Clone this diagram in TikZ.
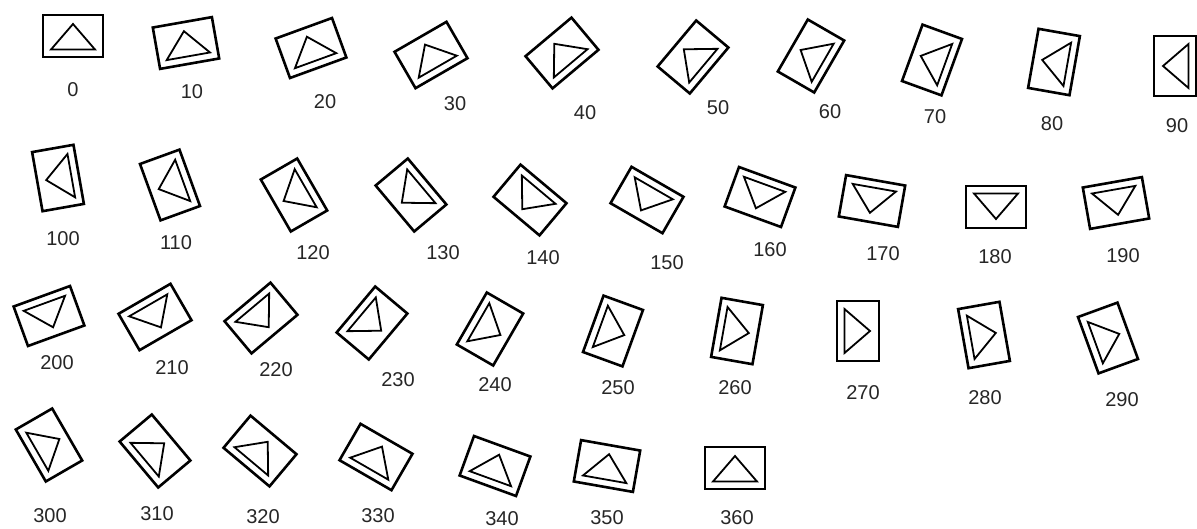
\documentclass[tikz,border=0pt]{standalone}
\usepackage{fontspec}
\setmainfont{Liberation Sans}

\begin{document}
\begin{tikzpicture}[
  x=1pt, y=-1pt,
  every node/.style={font=\fontsize{20}{20}\selectfont},
  iconbox/.style={draw, line width=2.6pt, minimum width=60pt,
                  minimum height=42pt, inner sep=0pt, transform shape},
  tri/.style={line width=1.8pt, line join=miter},
  lab/.style={text=black!85, inner sep=0pt}
]
\useasboundingbox (0,0) rectangle (1197,528);

%% ---- Row 1: 0 ... 90 -------------------------------------------------
\foreach \a/\x/\y/\lx/\ly in {0/73/36/73/90, 10/186/43/192/92,
    20/311/48/325/102, 30/431/55/455/104, 40/562/53/585/113,
    50/693/57/718/108, 60/811/56/830/112, 70/932/60/935/117,
    80/1054/62/1052/124, 90/1175/66/1177/126}{
  \begin{scope}[shift={(\x,\y)}, rotate=\a]
    \node[iconbox] (box\a) at (0,0) {};
    \draw[tri] (0,-12) -- (22,13.5) -- (-22,13.5) -- cycle;
  \end{scope}
  \node[lab] (lab\a) at (\lx,\ly) {\a};
}

%% ---- Row 2: 100 ... 190 ----------------------------------------------
\foreach \a/\x/\y/\lx/\ly in {100/58/178/63/239, 110/170/185/176/243,
    120/294/195/313/253, 130/411/195/443/253, 140/530/200/543/258,
    150/647/200/667/263, 160/760/197/770/250, 170/872/201/883/254,
    180/996/207/995/257, 190/1116/203/1123/256}{
  \begin{scope}[shift={(\x,\y)}, rotate=\a]
    \node[iconbox] (box\a) at (0,0) {};
    \draw[tri] (0,-12) -- (22,13.5) -- (-22,13.5) -- cycle;
  \end{scope}
  \node[lab] (lab\a) at (\lx,\ly) {\a};
}

%% ---- Row 3: 200 ... 290 ----------------------------------------------
\foreach \a/\x/\y/\lx/\ly in {200/49/316/57/363, 210/155/317/172/368,
    220/261/318/276/370, 230/372/323/398/380, 240/490/329/495/385,
    250/613/331/618/388, 260/737/331/735/388, 270/858/331/863/393,
    280/984/335/985/398, 290/1108/338/1122/400}{
  \begin{scope}[shift={(\x,\y)}, rotate=\a]
    \node[iconbox] (box\a) at (0,0) {};
    \draw[tri] (0,-12) -- (22,13.5) -- (-22,13.5) -- cycle;
  \end{scope}
  \node[lab] (lab\a) at (\lx,\ly) {\a};
}

%% ---- Row 4: 300 ... 360 ----------------------------------------------
\foreach \a/\x/\y/\lx/\ly in {300/49/445/50/516, 310/155/451/157/514,
    320/260/451/263/517, 330/376/457/378/516, 340/495/466/502/519,
    350/607/466/607/518, 360/735/468/737/518}{
  \begin{scope}[shift={(\x,\y)}, rotate=\a]
    \node[iconbox] (box\a) at (0,0) {};
    \draw[tri] (0,-12) -- (22,13.5) -- (-22,13.5) -- cycle;
  \end{scope}
  \node[lab] (lab\a) at (\lx,\ly) {\a};
}

\end{tikzpicture}
\end{document}
